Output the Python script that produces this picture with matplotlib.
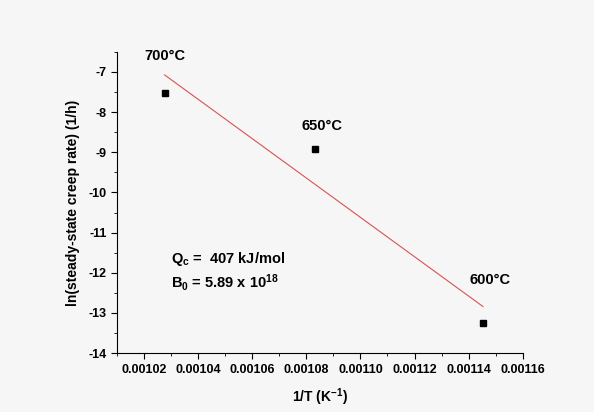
import matplotlib
matplotlib.use('Agg')
import matplotlib.pyplot as plt
import numpy as np
from matplotlib.ticker import MultipleLocator, FormatStrFormatter

plt.rcParams['font.family'] = ['Liberation Sans', 'DejaVu Sans']
plt.rcParams['font.weight'] = 'bold'
plt.rcParams['axes.unicode_minus'] = False
plt.rcParams['mathtext.fontset'] = 'custom'
plt.rcParams['mathtext.rm'] = 'Liberation Sans:bold'
plt.rcParams['mathtext.it'] = 'Liberation Sans:bold'
plt.rcParams['mathtext.bf'] = 'Liberation Sans:bold'

# data
inv_T = [0.0010276, 0.0010832, 0.0011453]     # 1/T (1/K)
ln_rate = [-7.53, -8.93, -13.25]              # ln(creep rate)
temps = ['700°C', '650°C', '600°C']

# ajuste lineal
m, b = np.polyfit(inv_T, ln_rate, 1)
xf = np.array([inv_T[0], inv_T[-1]])

fig = plt.figure(figsize=(5.94, 4.12), dpi=100, facecolor='#f6f6f6')
ax = fig.add_axes([0.197, 0.143, 0.683, 0.731])
ax.set_facecolor('#f6f6f6')

ax.plot(xf, m*xf + b, color='#d9534f', lw=0.8)
ax.plot(inv_T, ln_rate, 's', color='black', ms=5)

offs = [(0.0, 0.75), (0.0000025, 0.4), (0.0000025, 0.9)]
for x, y, t, o in zip(inv_T, ln_rate, temps, offs):
    ax.text(x + o[0], y + o[1], t, ha='center', va='bottom', fontsize=10.5, fontweight='bold')

ax.text(0.00103, -11.65, r'Q$_{\mathregular{c}}$ =  407 kJ/mol', fontsize=10.5, fontweight='bold', va='center')
ax.text(0.00103, -12.25, r'B$_{\mathregular{0}}$ = 5.89 x 10$^{\mathregular{18}}$', fontsize=10.5, fontweight='bold', va='center')

ax.set_xlim(0.00101, 0.00116)
ax.set_ylim(-14, -6.5)
ax.xaxis.set_major_locator(MultipleLocator(0.00002))
ax.xaxis.set_minor_locator(MultipleLocator(0.00001))
ax.xaxis.set_major_formatter(FormatStrFormatter('%.5f'))
ax.yaxis.set_major_locator(MultipleLocator(1))
ax.yaxis.set_minor_locator(MultipleLocator(0.5))
ax.tick_params(which='major', direction='out', length=4, labelsize=9)
ax.tick_params(which='minor', direction='out', length=2.5)
for s in ['top', 'right']:
    ax.spines[s].set_visible(False)

ax.set_xlabel(r'1/T (K$^{\mathregular{-1}}$)', fontsize=10, fontweight='bold', labelpad=8)
ax.set_ylabel('ln(steady-state creep rate) (1/h)', fontsize=10, fontweight='bold', labelpad=6)

fig.savefig('out.png', dpi=100, facecolor=fig.get_facecolor())
